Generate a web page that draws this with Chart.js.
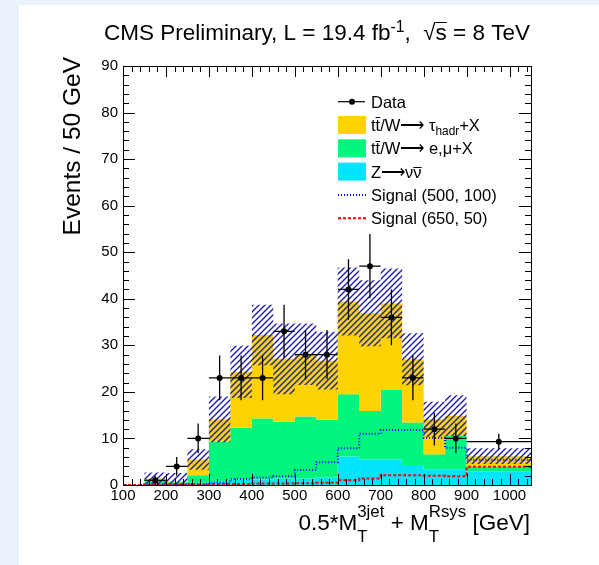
<!DOCTYPE html>
<html>
<head>
<meta charset="utf-8">
<script src="https://cdn.jsdelivr.net/npm/chart.js@4.4.1/dist/chart.umd.min.js"></script>
<style>
  html, body { margin: 0; padding: 0; background: #fff; }
  canvas { display: block; }
</style>
</head>
<body>
<canvas id="mtChart" width="599" height="565"></canvas>
<script>
// bin edges in GeV (last bin is 900-1050)
var edges = [100, 150, 200, 250, 300, 350, 400, 450, 500, 550, 600, 650, 700, 750, 800, 850, 900, 1050];
// observed data, events / 50 GeV
var dataCounts = [null, 1, 4, 10, 23, 23, 23, 33, 28, 28, 42, 47, 36, 23, 12, 10, 9.3];
var dataErr    = [null, 1, 2, 3.2, 4.8, 4.8, 4.8, 5.7, 5.3, 5.3, 6.5, 6.9, 6, 4.8, 3.5, 3.2, 1.7];
// background components (stacked)
var zNuNu  = [0, 0.3, 0.2, 0.5, 0.7, 1.2, 1.2, 1.4, 1.4, 1.6, 6.1, 5.5, 5.5, 4.3, 3.4, 3.4, 2.9];
var ttLep  = [0, 0.9, 0.4, 1.6, 8.6, 11.1, 13.1, 12.2, 13.3, 12.4, 13.4, 10.4, 14.9, 9.1, 3.2, 7.1, 1.1];
var ttTau  = [0, 0.2, 0.2, 3.4, 4.8, 12.0, 17.9, 13.5, 13.4, 12.7, 19.9, 21.0, 18.6, 13.6, 7.5, 4.4, 2.2];
var bkgUnc = [0, 1.3, 1.8, 2.2, 4.9, 5.6, 6.5, 7.6, 6.6, 6.2, 7.3, 7.1, 7.5, 5.6, 3.8, 4.4, 1.7];
// signal points
var sig500 = [0, 0.1, 0.1, 0.2, 0.5, 1.3, 1.6, 1.9, 3.2, 4.9, 7.9, 11.0, 11.8, 11.8, 10.1, 8.0, 5.4];
var sig650 = [0, 0.1, 0.1, 0.1, 0.2, 0.2, 0.3, 0.3, 0.4, 0.5, 1.0, 1.4, 2.1, 2.1, 2.0, 1.9, 3.9];
var yTicks = [0, 10, 20, 30, 40, 50, 60, 70, 80, 90];

var colTau = '#ffd300', colLep = '#00f57c', colZ = '#00e4ff';
var FONT = "'Liberation Sans', Arial, Helvetica, sans-serif";
var ARROW = '\u27F6';

function stepPoints(vals) {
    var pts = vals.map(function (v, i) { return {x: edges[i], y: v}; });
    pts.push({x: edges[edges.length - 1], y: vals[vals.length - 1]});
    return pts;
}

var cumZ = zNuNu.slice();
var cumLep = cumZ.map(function (v, i) { return v + ttLep[i]; });
var cumTau = cumLep.map(function (v, i) { return v + ttTau[i]; });
var uncHi = cumTau.map(function (v, i) { return v + bkgUnc[i]; });
var uncLo = cumTau.map(function (v, i) { return Math.max(0, v - bkgUnc[i]); });

var dataPts = [], errPts = [];
dataCounts.forEach(function (v, i) {
    if (v === null) return;
    var lo = edges[i], hi = edges[i + 1], c = (lo + hi) / 2, e = dataErr[i];
    dataPts.push({x: c, y: v});
    errPts.push({x: lo, y: v}, {x: hi, y: v}, {x: hi, y: null},
                {x: c, y: v - e}, {x: c, y: v + e}, {x: c, y: null});
});

// hatch pattern for the uncertainty band
var pc = document.createElement('canvas');
pc.width = 6; pc.height = 6;
var pctx = pc.getContext('2d');
pctx.strokeStyle = '#1c1ca6';
pctx.lineWidth = 1.4;
pctx.beginPath();
pctx.moveTo(0, 6); pctx.lineTo(6, 0);
pctx.moveTo(-1, 1); pctx.lineTo(1, -1);
pctx.moveTo(5, 7); pctx.lineTo(7, 5);
pctx.stroke();
var ctx = document.getElementById('mtChart').getContext('2d');
var hatch = ctx.createPattern(pc, 'repeat');

function font(size) { return size + 'px ' + FONT; }

// text with sub/superscripts and overbars
function partWidth(c, p, size, st) {
    if (typeof p === 'string') { c.font = font(size); return c.measureText(p).width; }
    if (p.bar) { c.font = font(size); return c.measureText(p.bar).width; }
    c.font = font(size * st.scale);
    return Math.max(p.sub ? c.measureText(p.sub).width : 0, p.sup ? c.measureText(p.sup).width : 0);
}
function drawRich(c, parts, x, y, size, st, align) {
    var total = 0;
    parts.forEach(function (p) { total += partWidth(c, p, size, st); });
    var cx = align === 'right' ? x - total : (align === 'center' ? x - total / 2 : x);
    c.fillStyle = '#000';
    c.textBaseline = 'alphabetic';
    c.textAlign = 'left';
    parts.forEach(function (p) {
        var w = partWidth(c, p, size, st);
        if (typeof p === 'string') {
            c.font = font(size); c.fillText(p, cx, y);
        } else if (p.bar) {
            c.font = font(size); c.fillText(p.bar, cx, y);
            var by = Math.round(y - size * (p.barY || 0.8)) + 0.5;
            c.strokeStyle = '#000'; c.lineWidth = 1;
            c.beginPath(); c.moveTo(cx, by); c.lineTo(cx + w, by); c.stroke();
        } else {
            c.font = font(size * st.scale);
            if (p.sup) c.fillText(p.sup, cx, y - size * st.up);
            if (p.sub) c.fillText(p.sub, cx, y + size * st.down);
        }
        cx += w;
    });
}

var decorations = {
    id: 'decorations',
    beforeDraw: function (chart) {
        var c = chart.ctx;
        c.save();
        c.fillStyle = '#eaf3fc';
        c.fillRect(0, 0, chart.width, chart.height);
        c.fillStyle = '#ffffff';
        c.fillRect(19, 5, chart.width - 19, chart.height - 5);
        c.restore();
    },
    afterDatasetsDraw: function (chart) {
        var c = chart.ctx, a = chart.chartArea;
        var xs = chart.scales.x, ys = chart.scales.y;
        c.save();
        c.strokeStyle = '#000';
        c.lineWidth = 1;
        c.beginPath();
        for (var gx = 100; gx < 1050; gx += 20) {
            var px = Math.round(xs.getPixelForValue(gx)) + 0.5;
            var len = gx % 100 === 0 ? 11 : 6;
            c.moveTo(px, a.bottom); c.lineTo(px, a.bottom - len);
            c.moveTo(px, a.top); c.lineTo(px, a.top + len);
        }
        for (var gy = 0; gy <= 90; gy += 2) {
            var py = Math.round(ys.getPixelForValue(gy)) + 0.5;
            var l2 = gy % 10 === 0 ? 12 : 6;
            c.moveTo(a.left, py); c.lineTo(a.left + l2, py);
            c.moveTo(a.right, py); c.lineTo(a.right - l2, py);
        }
        c.stroke();
        c.strokeRect(Math.round(a.left) + 0.5, Math.round(a.top) + 0.5,
                     Math.round(a.right - a.left), Math.round(a.bottom - a.top));
        c.restore();
    },
    afterDraw: function (chart) {
        var c = chart.ctx;
        c.save();
        // title
        drawRich(c, ['CMS Preliminary, L = 19.4 fb', {sup: '-1'}, ',  \u221A', {bar: 's', barY: 0.78}, ' = 8 TeV'],
                 317, 40, 22.5, {scale: 0.7, up: 0.36, down: 0.2}, 'center');
        // x title
        drawRich(c, ['0.5*M', {sub: 'T', sup: '3jet'}, ' + M', {sub: 'T', sup: 'Rsys'}, ' [GeV]'],
                 530, 530, 22.5, {scale: 0.75, up: 0.58, down: 0.52}, 'right');
        // y title
        c.translate(80, 57);
        c.rotate(-Math.PI / 2);
        c.font = font(24.5);
        c.fillStyle = '#000';
        c.textAlign = 'right';
        c.textBaseline = 'alphabetic';
        c.fillText('Events / 50 GeV', 0, 0);
        c.setTransform(1, 0, 0, 1, 0, 0);

        // legend
        var lx0 = 338, lx1 = 366, tx = 371, sz = 16.5;
        var rows = [101.7, 125, 148.3, 171.6, 195, 218.3];
        var st = {scale: 0.72, up: 0.4, down: 0.22};
        c.strokeStyle = '#000'; c.lineWidth = 1.2;
        c.beginPath(); c.moveTo(lx0, rows[0]); c.lineTo(lx1 - 1, rows[0]); c.stroke();
        c.fillStyle = '#000';
        c.beginPath(); c.arc(352, rows[0], 3, 0, Math.PI * 2); c.fill();
        [colTau, colLep, colZ].forEach(function (col, k) {
            c.fillStyle = col;
            c.fillRect(lx0, rows[k + 1] - 9, lx1 - lx0, 18);
        });
        c.lineWidth = 2;
        c.setLineDash([1, 2]); c.strokeStyle = '#0000ff';
        c.beginPath(); c.moveTo(lx0, rows[4]); c.lineTo(lx1, rows[4]); c.stroke();
        c.setLineDash([3, 2]); c.strokeStyle = '#ff0000';
        c.beginPath(); c.moveTo(lx0, rows[5]); c.lineTo(lx1, rows[5]); c.stroke();
        c.setLineDash([]);
        var labels = [
            ['Data'],
            ['t', {bar: 't', barY: 0.82}, '/W' + ARROW + ' \u03C4', {sub: 'hadr'}, '+X'],
            ['t', {bar: 't', barY: 0.82}, '/W' + ARROW + ' e,\u03BC+X'],
            ['Z' + ARROW + '\u03BD', {bar: '\u03BD', barY: 0.66}],
            ['Signal (500, 100)'],
            ['Signal (650, 50)']
        ];
        labels.forEach(function (parts, k) {
            drawRich(c, parts, tx, rows[k] + 6, sz, st, 'left');
        });
        c.restore();
    }
};

var stepBase = {stepped: 'before', pointRadius: 0, borderWidth: 0, tension: 0};

new Chart(ctx, {
    type: 'line',
    data: {
        datasets: [
            {label: 'Data', data: dataPts, showLine: false, pointRadius: 3,
             pointBackgroundColor: '#000', pointBorderWidth: 0, borderColor: '#000'},
            {label: 'Data errors', data: errPts, pointRadius: 0, borderColor: '#000',
             borderWidth: 1.3, spanGaps: false, fill: false},
            {label: 'Signal (650, 50)', data: stepPoints(sig650), borderColor: '#ff0000',
             borderWidth: 2, borderDash: [3, 2], fill: false, stepped: 'before', pointRadius: 0},
            {label: 'Signal (500, 100)', data: stepPoints(sig500), borderColor: '#0000ff',
             borderWidth: 2, borderDash: [1, 2], fill: false, stepped: 'before', pointRadius: 0},
            Object.assign({label: 'unc up', data: stepPoints(uncHi), backgroundColor: hatch,
             borderColor: 'rgba(0,0,0,0)', fill: '+1'}, stepBase),
            Object.assign({label: 'unc down', data: stepPoints(uncLo), borderColor: 'rgba(0,0,0,0)',
             fill: false}, stepBase),
            Object.assign({label: 'tt/W -> tau', data: stepPoints(cumTau), backgroundColor: colTau,
             borderColor: colTau, fill: '+1'}, stepBase),
            Object.assign({label: 'tt/W -> e,mu', data: stepPoints(cumLep), backgroundColor: colLep,
             borderColor: colLep, fill: '+1'}, stepBase),
            Object.assign({label: 'Z -> nunu', data: stepPoints(cumZ), backgroundColor: colZ,
             borderColor: colZ, fill: 'origin'}, stepBase)
        ]
    },
    options: {
        responsive: false,
        animation: false,
        devicePixelRatio: 1,
        layout: {padding: {left: 0, right: 68, top: 66, bottom: 0}},
        plugins: {legend: {display: false}, title: {display: false}, tooltip: {enabled: false}},
        scales: {
            x: {
                type: 'linear', min: 100, max: 1050,
                grid: {display: false, drawTicks: false}, border: {display: false},
                ticks: {stepSize: 100, includeBounds: false, autoSkip: false, maxRotation: 0,
                        padding: 2, color: '#000', font: {family: FONT, size: 15},
                        callback: function (v) { return String(v); }},
                afterFit: function (s) { s.height = 80; }
            },
            y: {
                type: 'linear', min: 0, max: 90,
                grid: {display: false, drawTicks: false}, border: {display: false},
                afterBuildTicks: function (s) { s.ticks = yTicks.map(function (v) { return {value: v}; }); },
                ticks: {padding: 5, color: '#000', font: {family: FONT, size: 15}},
                afterFit: function (s) { s.width = 123; }
            }
        }
    },
    plugins: [decorations]
});
</script>
</body>
</html>
